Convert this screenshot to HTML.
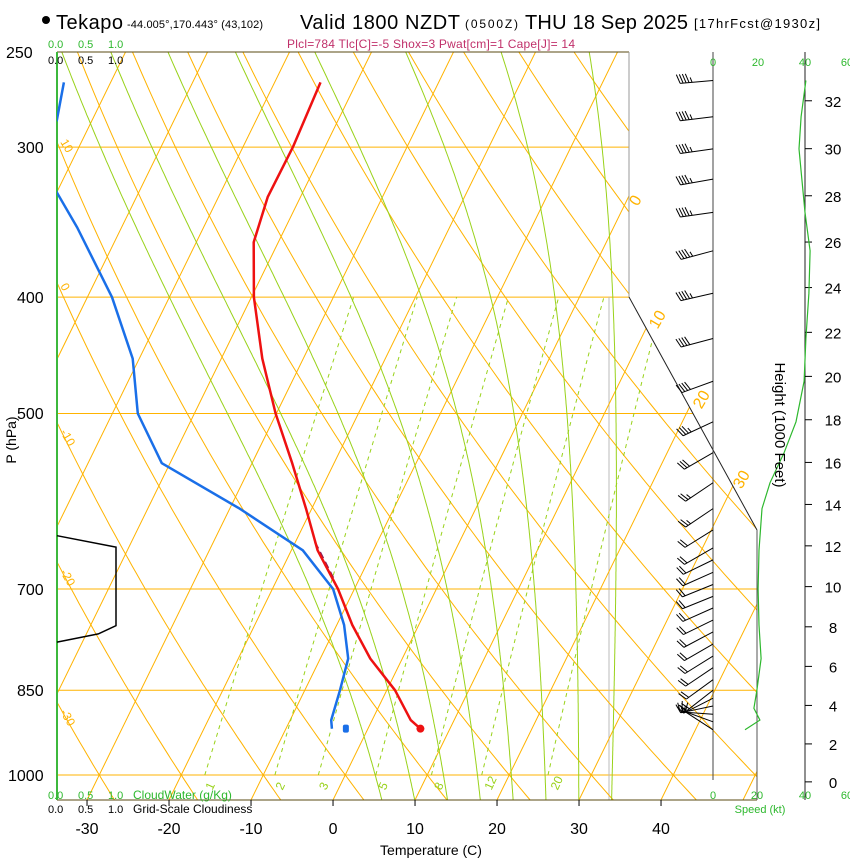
<!DOCTYPE html>
<html><head><meta charset="utf-8">
<style>
html,body{margin:0;padding:0;background:#fff;}
svg{display:block;font-family:"Liberation Sans",sans-serif;}
</style></head>
<body>
<svg id="chart" width="850" height="860" viewBox="0 0 850 860" xmlns="http://www.w3.org/2000/svg">
<defs><clipPath id="plotclip"><polygon points="57,52 629,52 629,297 757,530 757,800 57,800"/></clipPath></defs>
<g>
<circle cx="46" cy="20" r="4" fill="#000"/>
<text x="56" y="29" font-size="20" textLength="67">Tekapo</text>
<text x="127" y="28" font-size="11" textLength="136">-44.005°,170.443° (43,102)</text>
<text x="300" y="29" font-size="20" textLength="160">Valid 1800 NZDT</text>
<text x="465" y="28" font-size="12" textLength="53">(0500Z)</text>
<text x="525" y="29" font-size="20" textLength="163">THU 18 Sep 2025</text>
<text x="694" y="28" font-size="13" textLength="126">[17hrFcst@1930z]</text>
<text x="287" y="48" font-size="12" fill="#c0306a" textLength="288">Plcl=784 Tlc[C]=-5 Shox=3 Pwat[cm]=1 Cape[J]= 14</text>
</g>
<g id="bg" clip-path="url(#plotclip)"></g>
<g id="fg"></g>
<g font-size="16">
<text x="6" y="58" font-size="16">250</text>
<text x="17" y="153">300</text>
<text x="17" y="303">400</text>
<text x="17" y="419">500</text>
<text x="17" y="595">700</text>
<text x="17" y="696">850</text>
<text x="8" y="781">1000</text>
<text transform="translate(16,440) rotate(-90)" text-anchor="middle" font-size="14">P (hPa)</text>
<text x="431" y="855" text-anchor="middle" font-size="14">Temperature (C)</text>
<text transform="translate(775,425) rotate(90)" text-anchor="middle" font-size="15">Height (1000 Feet)</text>
</g>
<g font-size="11">
<g fill="#2db82d"><text x="48" y="48">0.0</text><text x="78" y="48">0.5</text><text x="108" y="48">1.0</text></g>
<g fill="#000"><text x="48" y="64">0.0</text><text x="78" y="64">0.5</text><text x="108" y="64">1.0</text></g>
<g fill="#2db82d"><text x="48" y="799">0.0</text><text x="78" y="799">0.5</text><text x="108" y="799">1.0</text><text x="133" y="799" font-size="12">CloudWater (g/Kg)</text></g>
<g fill="#000"><text x="48" y="813">0.0</text><text x="78" y="813">0.5</text><text x="108" y="813">1.0</text><text x="133" y="813" font-size="12">Grid-Scale Cloudiness</text></g>
<text x="713" y="66" fill="#2db82d" text-anchor="middle">0</text>
<text x="758" y="66" fill="#2db82d" text-anchor="middle">20</text>
<text x="805" y="66" fill="#2db82d" text-anchor="middle">40</text>
<text x="847" y="66" fill="#2db82d" text-anchor="middle">60</text>
<text x="713" y="799" fill="#2db82d" text-anchor="middle">0</text>
<text x="757" y="799" fill="#2db82d" text-anchor="middle">20</text>
<text x="805" y="799" fill="#2db82d" text-anchor="middle">40</text>
<text x="847" y="799" fill="#2db82d" text-anchor="middle">60</text>
<text x="760" y="813" fill="#2db82d" text-anchor="middle">Speed (kt)</text>
</g>
</svg>
<script>
// ---- data ----
const tempP = [915, 900, 850, 800, 750, 700, 650, 600, 550, 500, 450, 400, 360, 330, 300, 265];
const tempT = [6.4, 4.7, 1.0, -3.9, -8.1, -12.0, -16.8, -20.7, -25.1, -30.1, -35.0, -39.7, -43.0, -44.0, -43.9, -44.4];
const dewP = [915, 900, 850, 800, 750, 700, 650, 600, 550, 500, 450, 400, 350, 320, 300, 285, 265];
const dewT = [-4.4, -5.0, -5.7, -6.6, -9.1, -12.6, -18.6, -28.8, -41.0, -46.9, -50.8, -57.0, -65.4, -71.5, -76.0, -74.3, -75.7];
const parcelP = [640, 690];
const parcelT = [-17.6, -12.8];
const cloudP = [632, 646, 751, 763, 775];
const cloudF = [0, 1, 1, 0.7, 0];
const barbP = [264, 283, 301, 319, 340, 366, 397, 433, 470, 508, 539, 571, 600, 625, 647, 662, 678, 694, 710, 726, 743, 760, 778, 796, 814, 833, 850, 863, 876, 890, 903, 917];
const barbDir = [265, 263, 262, 260, 262, 255, 257, 255, 250, 245, 240, 236, 236, 238, 240, 244, 246, 248, 248, 246, 244, 242, 240, 238, 236, 234, 232, 243, 258, 274, 290, 303];
const barbSpd = [45, 45, 45, 45, 45, 45, 45, 40, 40, 35, 30, 25, 25, 20, 20, 20, 20, 20, 20, 20, 20, 20, 20, 20, 20, 20, 20, 20, 15, 15, 15, 10];
const speedP = [264, 283, 301, 340, 366, 397, 433, 470, 508, 539, 571, 600, 650, 700, 750, 800, 850, 880, 900, 917];
const speedKt = [40.4, 38.3, 37.4, 40, 42.2, 41.7, 40.4, 39.6, 36.1, 30.9, 24.8, 21.3, 20, 19.6, 20, 20.9, 19.1, 17.8, 20.4, 13.9];
const tempTicks = [-30, -20, -10, 0, 10, 20, 30, 40];
const heightTicks = [0, 2, 4, 6, 8, 10, 12, 14, 16, 18, 20, 22, 24, 26, 28, 30, 32];
const isobarLevels = [300, 400, 500, 700, 850, 1000];
const mixRatios = [1, 2, 3, 5, 8, 12, 20];
const moistStarts = [6, 10, 14, 18, 22, 26, 30, 34];

// ---- axes ----
const NS = 'http://www.w3.org/2000/svg';
function yOf(p){ return 775 + 521.5*Math.log(p/1000); }
function xOf(T,p){ return 333 + 8.2*T + 0.49*(800 - yOf(p)); }
function xSpd(k){ return 713 + 2.3*k; }
function mk(parent, tag, attrs){ const e=document.createElementNS(NS,tag); for(const k in attrs) e.setAttribute(k,attrs[k]); parent.appendChild(e); return e; }
function ptsStr(arr){ return arr.map(a=>a[0].toFixed(1)+','+a[1].toFixed(1)).join(' '); }
const bg = document.getElementById('bg');
const fg = document.getElementById('fg');
const OR = '#ffb300';

isobarLevels.forEach(p=>{
  const l = mk(bg,'line',{x1:57,x2:757,y1:yOf(p),y2:yOf(p),stroke:OR,'stroke-width':1});
  
  
});
const gv = mk(bg,'line',{x1:609,x2:609,y1:297,y2:800,stroke:'#bbb','stroke-width':1});


for(let T=-120; T<=50; T+=10){
  const l = mk(bg,'line',{x1:xOf(T,1050),y1:yOf(1050),x2:xOf(T,240),y2:yOf(240),stroke:OR,'stroke-width':1});
  
  
}
for(let th=-40; th<=220; th+=10){
  const pts=[]; for(let p=1050;p>=240;p-=10){ pts.push([xOf((th+273.15)*Math.pow(p/1000,0.2857)-273.15,p), yOf(p)]); }
  const l = mk(bg,'polyline',{points:ptsStr(pts),fill:'none',stroke:OR,'stroke-width':1});
  
  
}
function es(Tc){ return 6.112*Math.exp(17.67*Tc/(Tc+243.5)); }
moistStarts.forEach(t0=>{
  let T=t0+273.15; const pts=[];
  for(let p=1050;p>=240;p-=2){
    pts.push([xOf(T-273.15,p), yOf(p)]);
    const e=es(T-273.15), rs=0.622*e/(p-e);
    const num=287*T+2.5e6*rs, den=1005+2.5e6*2.5e6*rs*0.622/(287*T*T);
    T -= (num/den)*(2/p);
  }
  const l = mk(bg,'polyline',{points:ptsStr(pts),fill:'none',stroke:'#99d21a','stroke-width':1});
  
  
});
mixRatios.forEach(w=>{
  const pts=[];
  for(let p=1000;p>=400;p-=10){ const e=w*p/(622+w), L=Math.log(e/6.112); pts.push([xOf(243.5*L/(17.67-L),p), yOf(p)]); }
  const l = mk(bg,'polyline',{points:ptsStr(pts),fill:'none',stroke:'#99d21a','stroke-width':1,'stroke-dasharray':'4,4'});
  
  
  const e=w*1000/(622+w), L=Math.log(e/6.112);
  const lx=xOf(243.5*L/(17.67-L),1000)+ (w>3? 6:4);
  const t = mk(fg,'text',{x:lx,y:793,fill:'#99d21a','font-size':12,transform:'rotate(-65 '+lx+' 789)'});
  t.textContent=w;
  
  
});
[['frame-top',57,52,629,52,'#5a4a10'],['frame-bottom',57,800,757,800,'#5a4a10'],['frame-left',57,52,57,800,'#3cb83c'],['frame-right-upper',629,52,629,297,'#999'],['frame-diagonal',629,297,757,530,'#222'],['frame-right-lower',757,530,757,800,'#555'],['wind-axis',713,52,713,780,'#444'],['height-axis',805,52,805,800,'#222']].forEach(f=>{
  const l = mk(fg,'line',{x1:f[1],y1:f[2],x2:f[3],y2:f[4],stroke:f[5],'stroke-width':f[0]=='frame-left'?2:1});
  
  
});
tempTicks.forEach(T=>{
  const x=xOf(T,1049);
  const tk = mk(fg,'line',{x1:x,x2:x,y1:800,y2:806,stroke:'#000'});
  
  
  const t = mk(fg,'text',{x:x,y:834,'text-anchor':'middle','font-size':16});
  t.textContent=T;
  
  
});
heightTicks.forEach(h=>{
  const p=1013.25*Math.pow(1-2.25577e-5*h*304.8,5.25588), y=yOf(p);
  const tk = mk(fg,'line',{x1:805,x2:812,y1:y,y2:y,stroke:'#000'});
  
  
  const t = mk(fg,'text',{x:833,y:y+6,'text-anchor':'middle','font-size':15});
  t.textContent=h;
  
  
});
[['0',640,203],['10',662,322],['20',706,402],['30',746,482]].forEach(a=>{
  const t = mk(fg,'text',{x:a[1],y:a[2],fill:OR,'font-size':16,'text-anchor':'middle',transform:'rotate(-60 '+a[1]+' '+a[2]+')'});
  t.textContent=a[0];
  
  
});
[['10',60,142],['0',60,286],['-10',60,432],['-20',60,572],['-30',60,712]].forEach(a=>{
  const t = mk(fg,'text',{x:a[1],y:a[2],fill:OR,'font-size':12,transform:'rotate(60 '+a[1]+' '+a[2]+')'});
  t.textContent=a[0];
  
  
});
const cpts = cloudP.map((p,i)=>[57+59*cloudF[i], yOf(p)]);
const cl = mk(fg,'polyline',{points:ptsStr(cpts),fill:'none',stroke:'#000','stroke-width':1.5});


const spts = speedP.map((p,i)=>[xSpd(speedKt[i]), yOf(p)]);
const sl = mk(fg,'polyline',{points:ptsStr(spts),fill:'none',stroke:'#2db82d','stroke-width':1.2});


barbP.forEach((p,i)=>{
  const y=yOf(p), d=barbDir[i]*Math.PI/180;
  const ux=Math.sin(d), uy=-Math.cos(d), nx=-uy, ny=ux;
  const tx=713+33*ux, ty=y+33*uy;
  const g = mk(fg,'g',{stroke:'#000','stroke-width':1,fill:'none'});
  
  
  mk(g,'line',{x1:713,y1:y,x2:tx,y2:ty});
  let s=barbSpd[i], k=0;
  while(s>=10){ const bx=tx-k*3*ux, by=ty-k*3*uy; mk(g,'line',{x1:bx,y1:by,x2:bx+9*nx+3*ux,y2:by+9*ny+3*uy}); s-=10; k++; }
  if(s>=5){ const bx=tx-k*3*ux, by=ty-k*3*uy; mk(g,'line',{x1:bx,y1:by,x2:bx+5*nx+1.5*ux,y2:by+5*ny+1.5*uy}); }
});
const clipG = mk(fg,'g',{'clip-path':'url(#plotclip)'});


const dl = mk(clipG,'polyline',{points:ptsStr(dewP.map((p,i)=>[xOf(dewT[i],p),yOf(p)])),fill:'none',stroke:'#1a6fe8','stroke-width':2.5,'stroke-linejoin':'round'});


const pl = mk(clipG,'polyline',{points:ptsStr(parcelP.map((p,i)=>[xOf(parcelT[i],p),yOf(p)])),fill:'none',stroke:'#8b1a5a','stroke-width':2,'stroke-dasharray':'7,4'});


const tl = mk(clipG,'polyline',{points:ptsStr(tempP.map((p,i)=>[xOf(tempT[i],p),yOf(p)])),fill:'none',stroke:'#ee1111','stroke-width':2.5,'stroke-linejoin':'round'});


const tdot = mk(fg,'circle',{cx:xOf(tempT[0],tempP[0]),cy:yOf(tempP[0]),r:4,fill:'#ee1111'});


const ddot = mk(fg,'rect',{x:xOf(dewT[0],dewP[0])+11,y:yOf(dewP[0])-4,width:6,height:8,rx:2,fill:'#1a6fe8'});


</script>
</body></html>
